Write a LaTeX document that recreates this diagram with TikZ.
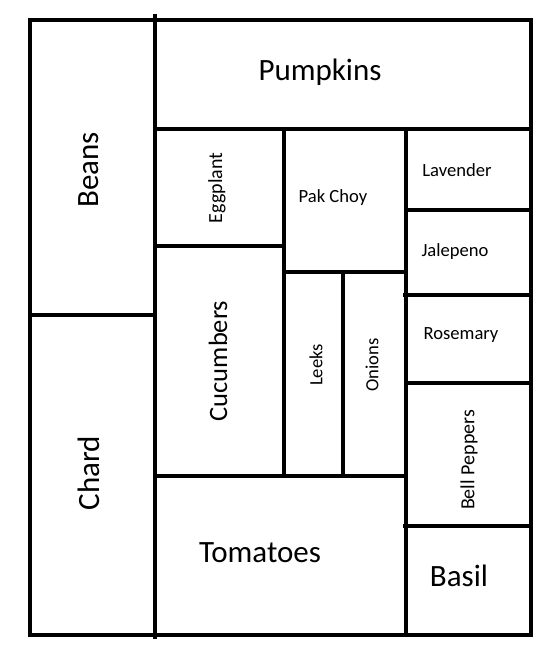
\documentclass[tikz,border=0pt]{standalone}
\usepackage{fontspec}
\setmainfont{Carlito}
\tikzset{
	bed/.style={line width=4pt},
	big/.style={font=\fontsize{31}{31}\selectfont},
	mid/.style={font=\fontsize{26.5}{26.5}\selectfont},
	small/.style={font=\fontsize{18.6}{18.6}\selectfont},
	smallup/.style={font=\fontsize{20}{20}\selectfont,rotate=90}
}
\begin{document}
\begin{tikzpicture}[x=1pt,y=-1pt]
			\useasboundingbox (0,0) rectangle (559,657);
			%outer frame
			\draw[bed] (30,19.5) rectangle (530.5,635);
			\draw[bed] (155,14) -- (155,639);
			\draw[bed] (30,315) -- (155,315);
			%middle beds
			\draw[bed] (155,129) -- (530.5,129);
			\draw[bed] (283.5,129) -- (283.5,475.5);
			\draw[bed] (155,246) -- (283.5,246);
			\draw[bed] (283.5,272) -- (406,272);
			\draw[bed] (343,272) -- (343,475.5);
			\draw[bed] (155,475.5) -- (406,475.5);
			%right column
			\draw[bed] (406,129) -- (406,635);
			\draw[bed] (406,210) -- (530.5,210);
			\draw[bed] (403,295) -- (530.5,295);
			\draw[bed] (406,383) -- (530.5,383);
			\draw[bed] (403,526) -- (530.5,526);
			%labels
			\node[big] (pumpkins) at (320,72) {Pumpkins};
			\node[big,rotate=90] (beans) at (89,170) {Beans};
			\node[big,rotate=90] (chard) at (89,473) {Chard};
			\node[big] (tomatoes) at (260,553) {Tomatoes};
			\node[big] (basil) at (459,576) {Basil};
			\node[smallup] (eggplant) at (217,188) {Eggplant};
			\node[mid,rotate=90] (cucumbers) at (218,361) {Cucumbers};
			\node[small] (pakchoy) at (333,198) {Pak Choy};
			\node[small,rotate=90] (leeks) at (316,365) {Leeks};
			\node[small,rotate=90] (onions) at (372,365) {Onions};
			\node[small] (lavender) at (457,170) {Lavender};
			\node[small] (jalepeno) at (455,252) {Jalepeno};
			\node[small] (rosemary) at (461,335) {Rosemary};
			\node[smallup] (bellpeppers) at (469,460) {Bell Peppers};
		\end{tikzpicture}
\end{document}
